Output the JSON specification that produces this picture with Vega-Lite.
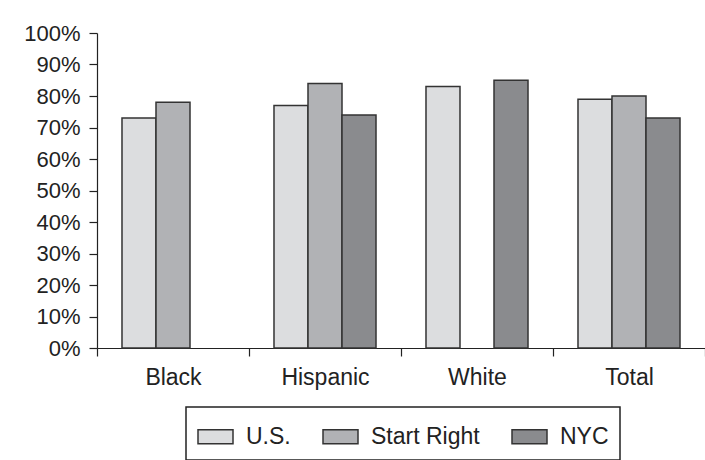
{
  "$schema": "https://vega.github.io/schema/vega-lite/v6.json",
  "autosize": "none",
  "width": 608,
  "height": 315,
  "padding": {"left": 97, "top": 33, "right": 0, "bottom": 112},
  "background": "white",
  "config": {
    "font": "Liberation Sans",
    "view": {"stroke": null},
    "axis": {"domainColor": "#222", "tickColor": "#222", "labelColor": "#222", "domainWidth": 1.2, "tickWidth": 1.2, "grid": false, "title": null, "labelFont": "Liberation Sans"}
  },
  "data": {
    "values": [
      {"group": "Black", "series": "U.S.", "value": 73},
      {"group": "Black", "series": "Start Right", "value": 78},
      {"group": "Hispanic", "series": "U.S.", "value": 77},
      {"group": "Hispanic", "series": "Start Right", "value": 84},
      {"group": "Hispanic", "series": "NYC", "value": 74},
      {"group": "White", "series": "U.S.", "value": 83},
      {"group": "White", "series": "NYC", "value": 85},
      {"group": "Total", "series": "U.S.", "value": 79},
      {"group": "Total", "series": "Start Right", "value": 80},
      {"group": "Total", "series": "NYC", "value": 73}
    ]
  },
  "mark": {"type": "bar", "stroke": "#333", "strokeWidth": 1.5},
  "encoding": {
    "x": {
      "field": "group", "type": "nominal",
      "sort": ["Black", "Hispanic", "White", "Total"],
      "scale": {"paddingInner": 0, "paddingOuter": 0},
      "axis": {"labelAngle": 0, "tickBand": "extent", "tickSize": 8, "labelPadding": 10, "labelFontSize": 23}
    },
    "xOffset": {
      "field": "series", "type": "nominal",
      "sort": ["U.S.", "Start Right", "NYC"],
      "scale": {"domain": ["U.S.", "Start Right", "NYC"], "paddingInner": 0, "paddingOuter": 0.735}
    },
    "y": {
      "field": "value", "type": "quantitative",
      "scale": {"domain": [0, 100], "nice": false},
      "axis": {"values": [0, 10, 20, 30, 40, 50, 60, 70, 80, 90, 100], "labelExpr": "datum.value + '%'", "tickSize": 8, "labelPadding": 9, "labelFontSize": 22}
    },
    "fill": {
      "field": "series", "type": "nominal",
      "sort": ["U.S.", "Start Right", "NYC"],
      "scale": {"domain": ["U.S.", "Start Right", "NYC"], "range": ["#dcdddf", "#b1b2b5", "#8a8b8e"]},
      "legend": {
        "title": null,
        "orient": "none",
        "direction": "horizontal",
        "legendX": 89,
        "legendY": 374,
        "strokeColor": "#222",
        "padding": 11,
        "symbolType": "M-1,-0.4H1V0.4H-1Z",
        "symbolSize": 1225,
        "symbolStrokeColor": "#333",
        "symbolStrokeWidth": 1.5,
        "symbolOpacity": 1,
        "labelFontSize": 23,
        "labelColor": "#222",
        "labelOffset": 12,
        "columnPadding": 29,
        "encode": {"legend": {"update": {"strokeWidth": {"value": 1.5}}}}
      }
    }
  }
}
